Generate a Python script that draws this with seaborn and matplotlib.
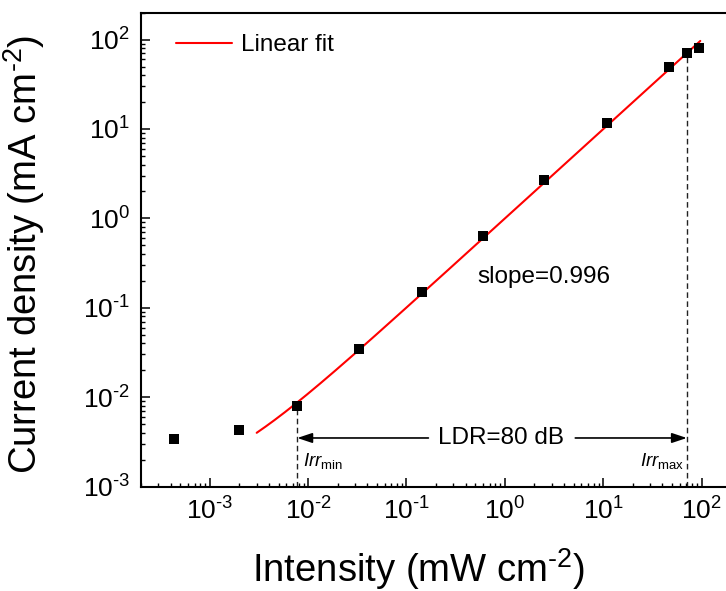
import numpy as np
import pandas as pd
import matplotlib
matplotlib.use("Agg")
import matplotlib.pyplot as plt
from matplotlib.ticker import LogLocator, NullFormatter
import seaborn as sns

# ---- data ----
intensity = [4.35e-4, 1.98e-3, 7.76e-3, 0.0332, 0.1426, 0.600, 2.51, 10.9, 46.8, 70.8, 95.0]
current = [3.40e-3, 4.28e-3, 8.0e-3, 0.0345, 0.150, 0.634, 2.68, 11.7, 48.9, 71.1, 79.8]
fit_slope = 0.996
fit_intercept = 1.0e-3
fit_range = [3.0e-3, 97.0]
irr_min = 7.76e-3
irr_max = 70.8
irr_min_y = 8.0e-3
irr_max_y = 71.1
xticks = [1e-3, 1e-2, 1e-1, 1e0, 1e1, 1e2]
yticks = [1e-3, 1e-2, 1e-1, 1e0, 1e1, 1e2]

sns.set_style("ticks")
plt.rcParams["font.family"] = ["Liberation Sans", "DejaVu Sans"]
plt.rcParams["mathtext.fontset"] = "custom"
plt.rcParams["mathtext.rm"] = "Liberation Sans"
plt.rcParams["mathtext.it"] = "Liberation Sans:italic"
plt.rcParams["mathtext.bf"] = "Liberation Sans:bold"
plt.rcParams["axes.unicode_minus"] = False
plt.rcParams["text.color"] = "black"
plt.rcParams["axes.labelcolor"] = "black"


def sup(e):
    if e < 0:
        return r"$\mathdefault{10^{\text{-}%d}}$" % (-e)
    return r"$\mathdefault{10^{%d}}$" % e


fig = plt.figure(figsize=(7.26, 5.91), dpi=100)
ax = fig.add_axes([141 / 726, (591 - 486.5) / 591, (731.2 - 141) / 726, (486.5 - 12.7) / 591])

df = pd.DataFrame({"x": intensity, "y": current})
fx = np.geomspace(fit_range[0], fit_range[1], 300)
fit_df = pd.DataFrame({"x": fx, "y": fit_slope * fx + fit_intercept})

dash = (0, (4, 2.5))
ax.vlines([irr_min], 1e-3, irr_min_y, colors="#222222", linestyles=[dash], linewidth=1.0, zorder=1)
ax.vlines([irr_max], 1e-3, irr_max_y, colors="#222222", linestyles=[dash], linewidth=1.0, zorder=1)

sns.lineplot(data=fit_df, x="x", y="y", ax=ax, color="#ff0000", linewidth=1.5,
             label="Linear fit", zorder=2)
sns.scatterplot(data=df, x="x", y="y", ax=ax, marker="s", s=55, color="black",
                edgecolor="black", linewidth=0, zorder=3, legend=False)

ax.set_xscale("log")
ax.set_yscale("log")
ax.set_xlim(2e-4, 200)
ax.set_ylim(1e-3, 200)

ax.xaxis.set_minor_locator(LogLocator(base=10, subs=np.arange(2, 10), numticks=100))
ax.yaxis.set_minor_locator(LogLocator(base=10, subs=np.arange(2, 10), numticks=100))
ax.xaxis.set_minor_formatter(NullFormatter())
ax.yaxis.set_minor_formatter(NullFormatter())
ax.set_xticks(xticks)
ax.set_yticks(yticks)
ax.set_xticklabels([sup(int(round(np.log10(v)))) for v in xticks])
ax.set_yticklabels([sup(int(round(np.log10(v)))) for v in yticks])

ax.tick_params(which="major", direction="in", length=6.5, width=1.1, labelsize=19,
               colors="black")
ax.tick_params(which="minor", direction="in", length=3.2, width=1.0, colors="black")
ax.tick_params(axis="x", which="major", pad=8)
ax.tick_params(axis="y", which="major", pad=8)
for s in ax.spines.values():
    s.set_linewidth(1.5)
    s.set_color("black")

ax.set_xlabel(r"Intensity (mW cm$^{\text{-}2}$)", fontsize=27.5)
ax.set_ylabel(r"Current density (mA cm$^{\text{-}2}$)", fontsize=27.5)
ax.xaxis.set_label_coords(0.471, -0.125)
ax.yaxis.set_label_coords(-0.16, 0.489)

leg = ax.legend(loc="upper left", bbox_to_anchor=(0.06, 0.955), frameon=False,
                fontsize=17.5, handlelength=2.3, handletextpad=0.35,
                borderpad=0, borderaxespad=0)

ax.text(0.526, 0.222, "slope=0.996", fontsize=17.5, ha="left", va="center")

ldr_y = 3.49e-3
ax.text(0.92, ldr_y, "LDR=80 dB", fontsize=17.5, ha="center", va="center")
arrow = dict(arrowstyle="-|>,head_length=0.9,head_width=0.3", color="black",
             linewidth=1.2, shrinkA=0, shrinkB=0)
ax.annotate("", xy=(irr_min, ldr_y), xytext=(0.167, ldr_y), arrowprops=arrow)
ax.annotate("", xy=(irr_max, ldr_y), xytext=(5.2, ldr_y), arrowprops=arrow)

ax.text(8.9e-3, 1.93e-3, r"$Irr_{\mathrm{min}}$", fontsize=13.5, ha="left", va="center")
ax.text(66.4, 1.93e-3, r"$Irr_{\mathrm{max}}$", fontsize=13.5, ha="right", va="center")

fig.savefig("out.png", dpi=100)
